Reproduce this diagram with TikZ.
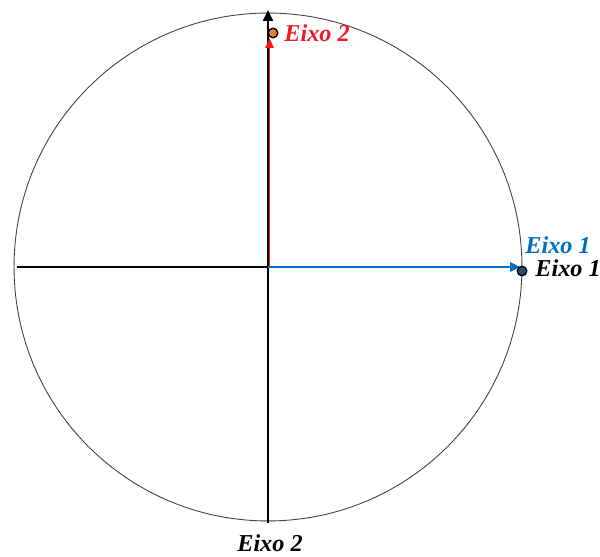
\documentclass[tikz,border=0pt]{standalone}
\usepackage{fontspec}
\setmainfont{Liberation Serif}
\usetikzlibrary{arrows.meta}
\definecolor{eixored}{RGB}{237,28,36}
\definecolor{eixoblue}{RGB}{0,112,192}
\definecolor{dotorange}{RGB}{237,125,49}
\definecolor{dotblue}{RGB}{31,78,121}
\tikzset{
  axislabel/.style={font=\fontsize{13.8}{16}\selectfont\bfseries\itshape, inner sep=0pt},
  tipdot/.style={circle, draw=black, line width=0.8pt, inner sep=0pt, minimum size=5.4pt}
}
\begin{document}
\begin{tikzpicture}[x=0.02cm, y=-0.02cm]
  \useasboundingbox (0,0) rectangle (600,557);
  % circle
  \coordinate (O) at (268,267);
  \draw[black!75, line width=0.5pt] (O) circle[radius=5.08cm];

  % axes
  \coordinate (L) at (17,267);
  \coordinate (B) at (268,523);
  \coordinate (T) at (268,10);
  \draw[line width=1.1pt] (L) -- (O);
  \draw[line width=1.1pt, -{Triangle[length=6.2pt,width=5.6pt]}] (B) -- (T);

  % vectors
  \coordinate (O2) at (269.5,267);
  \coordinate (R2) at (269.5,38);
  \coordinate (R1) at (520,267);
  \draw[eixored, line width=0.6pt, -{Triangle[length=5.6pt,width=4.8pt]}] (O2) -- (R2);
  \draw[eixoblue, line width=1.1pt, -{Triangle[length=5.6pt,width=5.4pt]}] (O) -- (R1);
  \node[tipdot, fill=dotorange] (d2) at (273,33) {};
  \node[tipdot, fill=dotblue] (d1) at (522,271) {};

  % labels
  \node[axislabel, eixored, anchor=west] (l2) at (284,33) {Eixo 2};
  \node[axislabel, eixoblue, anchor=west] (l1) at (525,245.5) {Eixo 1};
  \node[axislabel, anchor=west] (a1) at (535,268) {Eixo 1};
  \node[axislabel] (a2) at (270,543) {Eixo 2};
\end{tikzpicture}
\end{document}
